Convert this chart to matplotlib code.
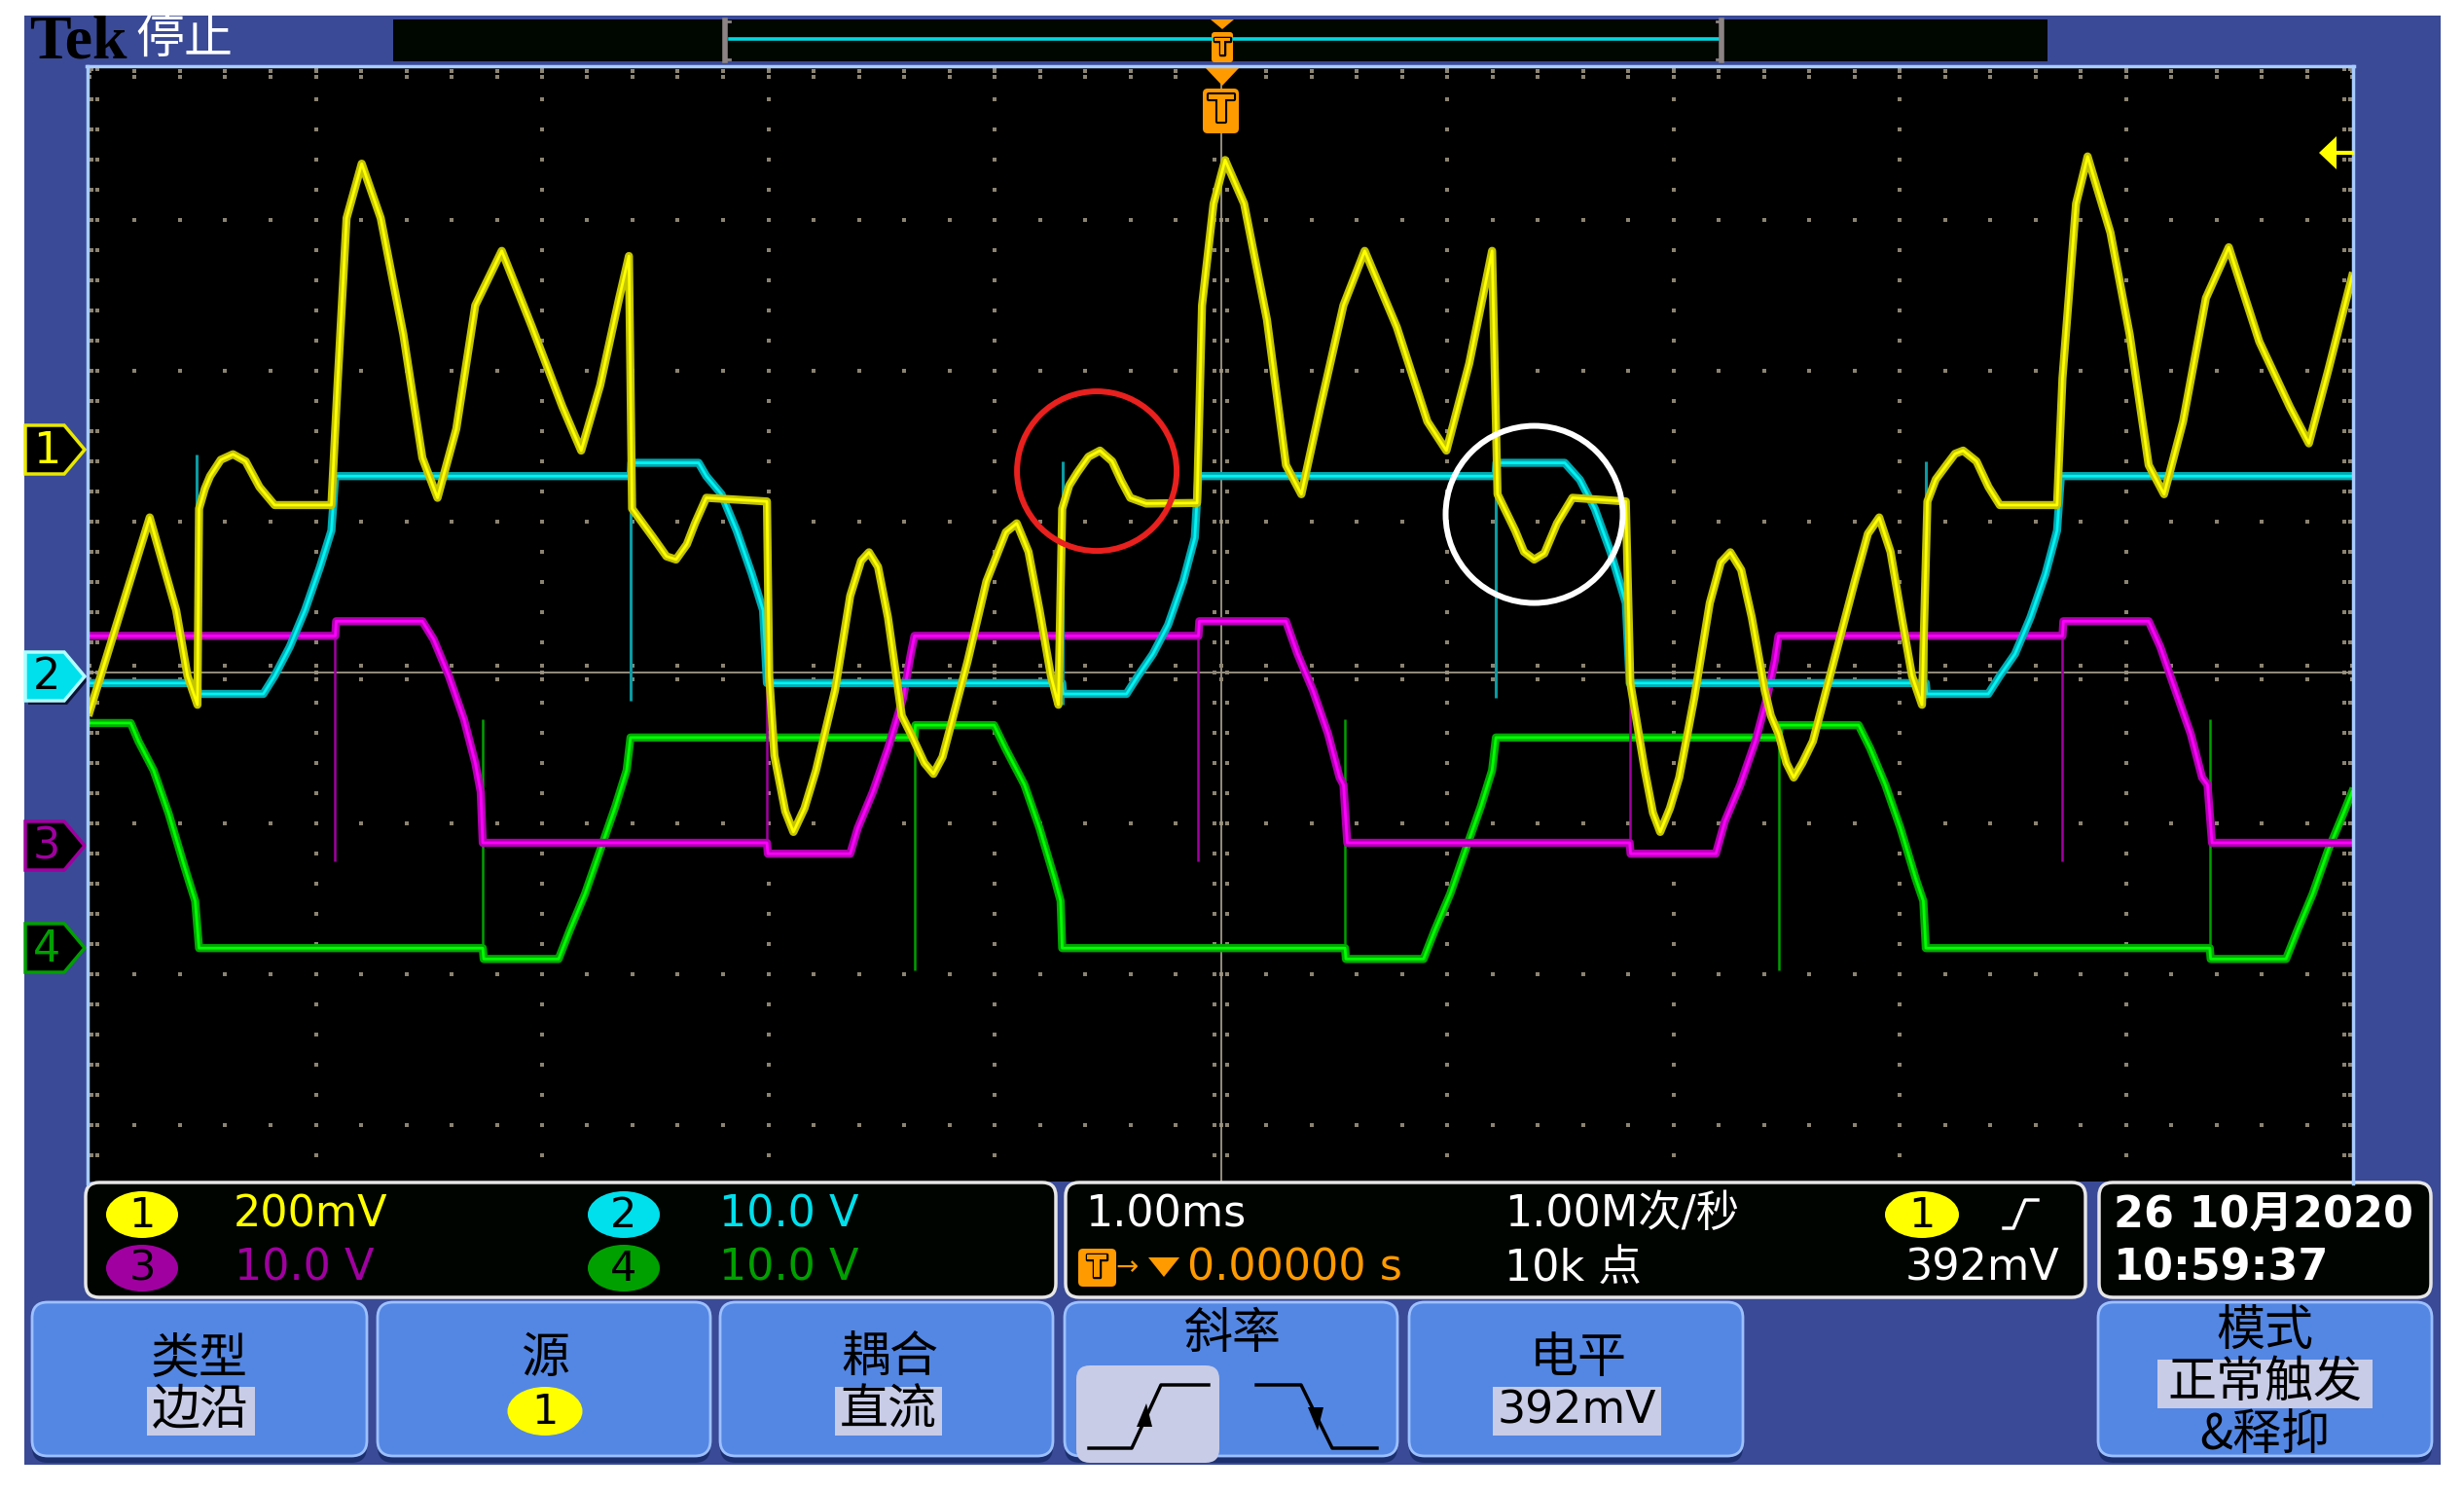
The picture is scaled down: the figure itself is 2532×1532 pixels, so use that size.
import numpy as np
import matplotlib
matplotlib.use('Agg')
import matplotlib.pyplot as plt
from matplotlib.patches import Rectangle, FancyBboxPatch, Ellipse, Polygon
import matplotlib.patheffects as pe

W, H = 2532, 1532

# traces: (time in ms = horizontal div, level in screen div)
ch1 = [(-5.0, -0.262), (-4.734, 1.028), (-4.617, 0.412), (-4.567, -0.022), (-4.523, -0.214),
       (-4.516, 1.086), (-4.490, 1.220), (-4.467, 1.302), (-4.420, 1.410), (-4.366, 1.447),
       (-4.310, 1.400), (-4.249, 1.230), (-4.182, 1.110),
       (-3.931, 1.110), (-3.904, 1.904), (-3.864, 3.012), (-3.797, 3.373), (-3.713, 3.012),
       (-3.613, 2.241), (-3.529, 1.423), (-3.462, 1.158), (-3.379, 1.615), (-3.295, 2.434),
       (-3.178, 2.795), (-3.044, 2.289), (-2.910, 1.762), (-2.827, 1.471), (-2.743, 1.904),
       (-2.659, 2.482), (-2.616, 2.761), (-2.602, 1.086), (-2.508, 0.893), (-2.450, 0.770),
       (-2.408, 0.749), (-2.360, 0.850), (-2.324, 0.989), (-2.274, 1.158), (-2.006, 1.134),
       (-1.996, -0.022), (-1.973, -0.551), (-1.925, -0.920), (-1.889, -1.057), (-1.840, -0.900),
       (-1.789, -0.648), (-1.705, -0.118), (-1.638, 0.508), (-1.590, 0.740), (-1.555, 0.797),
       (-1.515, 0.700), (-1.471, 0.364), (-1.421, -0.166), (-1.410, -0.286), (-1.370, -0.407),
       (-1.310, -0.600), (-1.270, -0.672), (-1.230, -0.560),
       (-1.203, -0.407), (-1.119, 0.075), (-1.036, 0.604), (-0.950, 0.930), (-0.902, 0.989),
       (-0.850, 0.800), (-0.801, 0.412),
       (-0.751, -0.022), (-0.718, -0.214), (-0.701, 1.086), (-0.670, 1.240), (-0.634, 1.326),
       (-0.585, 1.430), (-0.534, 1.471), (-0.480, 1.400), (-0.440, 1.270),
       (-0.400, 1.158), (-0.330, 1.120), (-0.105, 1.124), (-0.083, 2.434), (-0.032, 3.108),
       (0.019, 3.397), (0.103, 3.108), (0.204, 2.338), (0.288, 1.375), (0.356, 1.182),
       (0.440, 1.760), (0.542, 2.434), (0.636, 2.795), (0.778, 2.289), (0.913, 1.664),
       (0.997, 1.471), (1.098, 2.049), (1.199, 2.795), (1.223, 1.182), (1.301, 0.941),
       (1.340, 0.800), (1.385, 0.749), (1.430, 0.790), (1.486, 0.989),
       (1.554, 1.158), (1.790, 1.134), (1.810, -0.070), (1.874, -0.648), (1.910, -0.930),
       (1.942, -1.057), (1.985, -0.900), (2.026, -0.696), (2.093, -0.166), (2.161, 0.460),
       (2.210, 0.730), (2.252, 0.797), (2.300, 0.680),
       (2.347, 0.364), (2.404, -0.118), (2.431, -0.286), (2.465, -0.407), (2.500, -0.600),
       (2.532, -0.696), (2.570, -0.600),
       (2.617, -0.455), (2.701, 0.026), (2.802, 0.604), (2.860, 0.920), (2.910, 1.028),
       (2.960, 0.800), (3.004, 0.412),
       (3.055, -0.022), (3.099, -0.214), (3.123, 1.134), (3.160, 1.280), (3.207, 1.375),
       (3.245, 1.450), (3.281, 1.471), (3.340, 1.400), (3.393, 1.230), (3.443, 1.110),
       (3.696, 1.110), (3.720, 1.952), (3.780, 3.108),
       (3.831, 3.421), (3.932, 2.916), (4.017, 2.241), (4.101, 1.375), (4.169, 1.182),
       (4.253, 1.664), (4.354, 2.482), (4.455, 2.819), (4.590, 2.193), (4.725, 1.760),
       (4.809, 1.519), (4.894, 2.000), (5.0, 2.626)]

ch2 = [(-5.0, -0.070), (-4.526, -0.070), (-4.520, -0.142), (-4.232, -0.142), (-4.182, -0.022),
       (-4.115, 0.171), (-4.048, 0.412), (-3.981, 0.701), (-3.931, 0.941), (-3.914, 1.302),
       (-2.609, 1.302), (-2.605, 1.390), (-2.308, 1.390), (-2.274, 1.302), (-2.207, 1.182),
       (-2.140, 0.941), (-2.073, 0.653), (-2.023, 0.412), (-2.006, -0.070), (-0.701, -0.070),
       (-0.697, -0.142), (-0.417, -0.142), (-0.366, -0.022), (-0.300, 0.123), (-0.233, 0.316),
       (-0.166, 0.605), (-0.115, 0.894), (-0.099, 1.302), (1.214, 1.302), (1.218, 1.390),
       (1.520, 1.390), (1.587, 1.278), (1.653, 1.085), (1.723, 0.797), (1.790, 0.460),
       (1.807, -0.070), (3.116, -0.070), (3.120, -0.142), (3.392, -0.142), (3.443, -0.022),
       (3.510, 0.123), (3.578, 0.364), (3.645, 0.653), (3.696, 0.941), (3.713, 1.302),
       (5.0, 1.302)]

ch3 = [(-5.0, 0.243), (-3.914, 0.243), (-3.910, 0.340), (-3.529, 0.340), (-3.479, 0.219),
       (-3.412, -0.022), (-3.345, -0.311), (-3.295, -0.600), (-3.271, -0.792), (-3.262, -1.129),
       (-2.006, -1.129), (-2.002, -1.201), (-1.638, -1.201), (-1.605, -1.033), (-1.538, -0.792),
       (-1.471, -0.503), (-1.404, -0.166), (-1.370, 0.123), (-1.354, 0.243), (-0.099, 0.243),
       (-0.095, 0.340), (0.288, 0.340), (0.339, 0.123), (0.407, -0.118), (0.474, -0.407),
       (0.525, -0.696), (0.542, -0.744), (0.559, -1.129), (1.807, -1.129), (1.811, -1.201),
       (2.188, -1.201), (2.228, -0.985), (2.296, -0.744), (2.363, -0.455), (2.414, -0.166),
       (2.448, 0.075), (2.465, 0.243), (3.720, 0.243), (3.724, 0.340), (4.101, 0.340),
       (4.152, 0.171), (4.219, -0.118), (4.287, -0.407), (4.337, -0.696), (4.361, -0.744),
       (4.381, -1.129), (5.0, -1.129)]

ch4 = [(-5.0, -0.335), (-4.818, -0.335), (-4.784, -0.455), (-4.717, -0.648), (-4.650, -0.937),
       (-4.583, -1.274), (-4.533, -1.515), (-4.516, -1.827), (-3.262, -1.827), (-3.258, -1.899),
       (-2.927, -1.899), (-2.877, -1.707), (-2.810, -1.467), (-2.743, -1.178), (-2.676, -0.889),
       (-2.626, -0.648), (-2.609, -0.431), (-1.354, -0.431), (-1.350, -0.349), (-1.002, -0.349),
       (-0.952, -0.503), (-0.868, -0.744), (-0.801, -1.033), (-0.734, -1.370), (-0.708, -1.515),
       (-0.701, -1.827), (0.549, -1.827), (0.553, -1.899), (0.896, -1.899), (0.946, -1.707),
       (1.014, -1.467), (1.081, -1.178), (1.149, -0.889), (1.199, -0.648), (1.216, -0.431),
       (2.465, -0.431), (2.469, -0.349), (2.819, -0.349), (2.870, -0.503), (2.937, -0.744),
       (3.004, -1.033), (3.072, -1.370), (3.105, -1.515), (3.116, -1.827), (4.371, -1.827),
       (4.375, -1.899), (4.708, -1.899), (4.759, -1.707), (4.826, -1.467), (4.894, -1.178),
       (4.961, -0.937), (5.0, -0.792)]

# thin glitches on the switching edges
ch2_spk_t = [-4.526, -2.609, -0.701, 1.214, 3.116]
ch2_spk_lo = [-0.166, -0.190, -0.214, -0.166, -0.166]
ch2_spk_hi = [1.447, 1.447, 1.400, 1.447, 1.400]
ch3_spk_t = [-3.914, -2.006, -0.099, 1.807, 3.720]
ch3_spk_lo = [-1.249, -1.201, -1.249, -1.201, -1.249]
ch3_spk_hi = [0.340, -0.022, 0.340, -0.022, 0.340]
ch4_spk_t = [-3.262, -1.354, 0.549, 2.465, 4.371]
ch4_spk_lo = [-1.899, -1.971, -1.899, -1.971, -1.899]
ch4_spk_hi = [-0.311, -0.349, -0.311, -0.349, -0.311]

# marked regions (ms, div)
red_mark = (-0.548, 1.335)
white_mark = (1.385, 1.048)

NAVY = '#3a4a96'
FRAME = '#a8ccff'
GRID = '#8c8472'
CROSS = '#a09888'
BTN = '#5487e3'
HL = '#c8cce6'
ORANGE = '#ff9a00'
CJK = ['DejaVu Sans', 'Noto Sans CJK SC']

fig = plt.figure(figsize=(W / 100, H / 100), dpi=100, facecolor='white')

bg = fig.add_axes([0, 0, 1, 1])
bg.set_xlim(0, W)
bg.set_ylim(H, 0)
bg.axis('off')
bg.add_patch(Rectangle((25, 16), 2483, 1489, fc=NAVY, ec='none'))

# scope screen
L, R, T, B = 92, 2417, 69, 1214
ax = fig.add_axes([L / W, 1 - B / H, (R - L) / W, (B - T) / H])
ax.set_facecolor('black')
ax.set_xlim(-5, 5)
ax.set_ylim((691 - B) / 155, (691 - T) / 155)
ax.set_xticks([])
ax.set_yticks([])
for s in ax.spines.values():
    s.set_visible(False)

mx = np.arange(-25, 26) * 0.2
my = np.arange(-17, 21) * 0.2
dot = dict(ls='none', marker='s', ms=2.2, mew=0, color=GRID)
for yy in [-3, -2, -1, 1, 2, 3]:
    ax.plot(mx, np.full_like(mx, yy), **dot)
for xx in [-4, -3, -2, -1, 1, 2, 3, 4]:
    ax.plot(np.full_like(my, xx), my, **dot)
for xx in [-4.99, -4.965, 4.965, 4.99]:
    ax.plot(np.full_like(my, xx), my, **dot)
for yy in [3.985, 3.95]:
    ax.plot(mx, np.full_like(mx, yy), **dot)
ax.axhline(0, color=CROSS, lw=1.3)
ax.axvline(0, color=CROSS, lw=1.3)
for yy in [0.045, -0.045]:
    ax.plot(mx, np.full_like(mx, yy), **dot)
for xx in [0.03, -0.03]:
    ax.plot(np.full_like(my, xx), my, **dot)


def trace(pts, dark, bright):
    t, v = zip(*pts)
    ax.plot(t, v, color=dark, lw=6, solid_joinstyle='round', zorder=3)
    ax.plot(t, v, color=bright, lw=2, solid_joinstyle='round', zorder=3)


ax.vlines(ch4_spk_t, ch4_spk_lo, ch4_spk_hi, color='#00a000', lw=1.8, zorder=3)
trace(ch4, '#00a800', '#00ff00')
ax.vlines(ch3_spk_t, ch3_spk_lo, ch3_spk_hi, color='#a000a0', lw=1.8, zorder=3)
trace(ch3, '#b000b0', '#ff00ff')
ax.vlines(ch2_spk_t, ch2_spk_lo, ch2_spk_hi, color='#0a9aa2', lw=2.2, zorder=3)
trace(ch2, '#00aab2', '#00f4f4')
trace(ch1, '#c4c400', '#ffff00')

ax.add_patch(Ellipse(red_mark, 2 * 82 / 232.5, 2 * 82 / 155, fill=False,
                     ec='#e8201e', lw=4.3, zorder=5))
ax.add_patch(Ellipse(white_mark, 2 * 91 / 232.5, 2 * 91 / 155, fill=False,
                     ec='white', lw=4.3, zorder=5))

# overlay in pixel coordinates
ov = fig.add_axes([0, 0, 1, 1])
ov.set_xlim(0, W)
ov.set_ylim(H, 0)
ov.axis('off')

ov.plot([89, 2419], [68, 68], color=FRAME, lw=2.5)
ov.plot([90, 90], [68, 1216], color=FRAME, lw=2.5)
ov.plot([2418, 2418], [68, 1216], color=FRAME, lw=2.5)

# top bar
ov.text(30, 44, 'Tek', family='Liberation Serif', weight='bold', fontsize=46,
        color='black', ha='left', va='center')
ov.text(189, 41, '停止', family='Noto Sans CJK SC', fontsize=36, color='white',
        ha='center', va='center')
ov.add_patch(Rectangle((404, 20), 1700, 43, fc='#000600', ec='none'))
ov.plot([750, 1766], [40, 40], color='#00d8e0', lw=2.6)
for x0, d in [(745, 1), (1769, -1)]:
    ov.plot([x0, x0], [21, 62], color='#8c8484', lw=4)
    ov.plot([x0, x0 + 5 * d], [22, 22], color='#8c8484', lw=2)
    ov.plot([x0, x0 + 5 * d], [61, 61], color='#8c8484', lw=2)
ov.add_patch(Polygon([(1244, 20), (1268, 20), (1256, 30)], fc=ORANGE, ec='none'))
ov.add_patch(FancyBboxPatch((1245, 33), 22, 31, boxstyle='round,pad=0,rounding_size=3',
                            fc=ORANGE, ec='none'))
ov.text(1256, 49, 'T', color=ORANGE, fontsize=17, weight='bold', ha='center', va='center',
        path_effects=[pe.withStroke(linewidth=2.5, foreground='black')])
ov.add_patch(Polygon([(1239, 70), (1273, 70), (1256, 88)], fc=ORANGE, ec='none'))
ov.add_patch(FancyBboxPatch((1236, 91), 37, 46, boxstyle='round,pad=0,rounding_size=5',
                            fc=ORANGE, ec='none'))
ov.text(1255, 114, 'T', color=ORANGE, fontsize=28, weight='bold', ha='center', va='center',
        path_effects=[pe.withStroke(linewidth=3, foreground='black')])

# trigger level arrow
ov.add_patch(Polygon([(2383, 157), (2401, 140), (2401, 174)], fc='#ffff00', ec='none'))
ov.plot([2400, 2417], [157, 157], color='#ffff00', lw=3)


def ch_marker(yc, num, fc, ec, tc, shadow=False):
    pts = [(26, yc - 25), (66, yc - 25), (87, yc), (66, yc + 25), (26, yc + 25)]
    if shadow:
        sh = [(x + 3, y + 4) for x, y in pts]
        ov.add_patch(Polygon(sh, closed=True, fc='#0c1236', ec='none'))
    ov.add_patch(Polygon(pts, closed=True, fc=fc, ec=ec, lw=2.5, joinstyle='miter'))
    ov.text(48, yc + 1, num, color=tc, fontsize=32, ha='center', va='center')


ch_marker(462, '1', 'black', '#e8e800', '#ffff00')
ch_marker(695, '2', '#00e0ec', '#b0ffff', 'black', shadow=True)
ch_marker(869, '3', 'black', '#a000a0', '#a000a0')
ch_marker(974, '4', 'black', '#00a000', '#00a000')


def rbox(x0, y0, x1, y1, fc, ec='none', lw=0, r=14):
    ov.add_patch(FancyBboxPatch((x0, y0), x1 - x0, y1 - y0,
                                boxstyle='round,pad=0,rounding_size=%d' % r,
                                fc=fc, ec=ec, lw=lw))


def badge(x, y, num, fc, w=74, h=48):
    ov.add_patch(Ellipse((x, y), w, h, fc=fc, ec='none'))
    ov.text(x, y + 1, num, color='black', fontsize=31, ha='center', va='center')


# readouts
rbox(88, 1215, 1085, 1333, '#000400', '#e6e6e6', 2.5)
rbox(1095, 1215, 2143, 1333, '#000400', '#e6e6e6', 2.5)
rbox(2157, 1215, 2498, 1333, '#000400', '#e6e6e6', 2.5)
rt = dict(fontsize=32, va='center', ha='left')
badge(146, 1248, '1', '#ffff00')
ov.text(240, 1248, '200mV', color='#ffff00', **rt)
badge(641, 1248, '2', '#00e0ec')
ov.text(739, 1248, '10.0 V', color='#00e0ec', **rt)
badge(146, 1303, '3', '#a000a0')
ov.text(241, 1303, '10.0 V', color='#a000a0', **rt)
badge(641, 1303, '4', '#00a000')
ov.text(739, 1303, '10.0 V', color='#00a000', **rt)

ov.text(1115, 1248, '1.00ms', color='white', **rt)
ov.text(1546, 1248, '1.00M次/秒', color='white', family=CJK, **rt)
badge(1975, 1248, '1', '#ffff00', w=76)
ov.plot([2059, 2069, 2081, 2094], [1262, 1262, 1233, 1233], color='white', lw=2.5)
rbox(1108, 1283, 1147, 1322, ORANGE, r=5)
ov.text(1127, 1303, 'T', color=ORANGE, fontsize=22, weight='bold', ha='center', va='center',
        path_effects=[pe.withStroke(linewidth=2.5, foreground='black')])
ov.text(1146, 1302, '→', color=ORANGE, fontsize=20, ha='left', va='center')
ov.add_patch(Polygon([(1180, 1292), (1212, 1292), (1196, 1312)], fc=ORANGE, ec='none'))
ov.text(1220, 1303, '0.00000 s', color=ORANGE, **rt)
ov.text(1546, 1303, '10k 点', color='white', family=CJK, **rt)
ov.text(2116, 1303, '392mV', color='white', fontsize=32, va='center', ha='right')

ov.text(2172, 1248, '26 10月2020', color='white', family=CJK, weight='bold', **rt)
ov.text(2172, 1303, '10:59:37', color='white', weight='bold', **rt)


# soft keys
def button(x0, x1, y0=1338, y1=1503):
    rbox(x0, y0, x1, y1, '#1c2f6e', r=16)
    rbox(x0, y0, x1, y1 - 7, BTN, '#9dc0ff', 2, r=16)


for x0, x1 in [(33, 377), (388, 730), (740, 1082), (1094, 1436), (1448, 1791), (2156, 2499)]:
    button(x0, x1)

ck = dict(family='Noto Sans CJK SC', fontsize=36, color='black', ha='center', va='center')
ov.text(205, 1396, '类型', **ck)
ov.add_patch(Rectangle((151, 1425), 111, 50, fc=HL, ec='none'))
ov.text(206, 1449, '边沿', **ck)
ov.text(560, 1396, '源', **ck)
badge(560, 1450, '1', '#ffff00', w=77, h=50)
ov.text(914, 1396, '耦合', **ck)
ov.add_patch(Rectangle((858, 1425), 110, 50, fc=HL, ec='none'))
ov.text(913, 1449, '直流', **ck)

ov.text(1267, 1371, '斜率', **ck)
rbox(1106, 1403, 1253, 1503, HL, r=14)
ov.plot([1119, 1163, 1193, 1242], [1488, 1488, 1423, 1423], color='black', lw=2.5)
ov.add_patch(Polygon([(1178, 1442), (1168, 1466), (1184, 1466)], fc='black', ec='none'))
ov.plot([1291, 1337, 1369, 1415], [1423, 1423, 1488, 1488], color='black', lw=2.5)
ov.add_patch(Polygon([(1354, 1470), (1344, 1446), (1360, 1446)], fc='black', ec='none'))

ov.text(1622, 1396, '电平', **ck)
ov.add_patch(Rectangle((1534, 1425), 173, 50, fc=HL, ec='none'))
ov.text(1620, 1450, '392mV', color='black', fontsize=33, ha='center', va='center')

ov.text(2327, 1369, '模式', **ck)
ov.add_patch(Rectangle((2217, 1397), 221, 50, fc=HL, ec='none'))
ov.text(2327, 1421, '正常触发', **ck)
ov.text(2327, 1475, '&释抑', **ck)

fig.savefig('out.png', dpi=100, facecolor='white')
